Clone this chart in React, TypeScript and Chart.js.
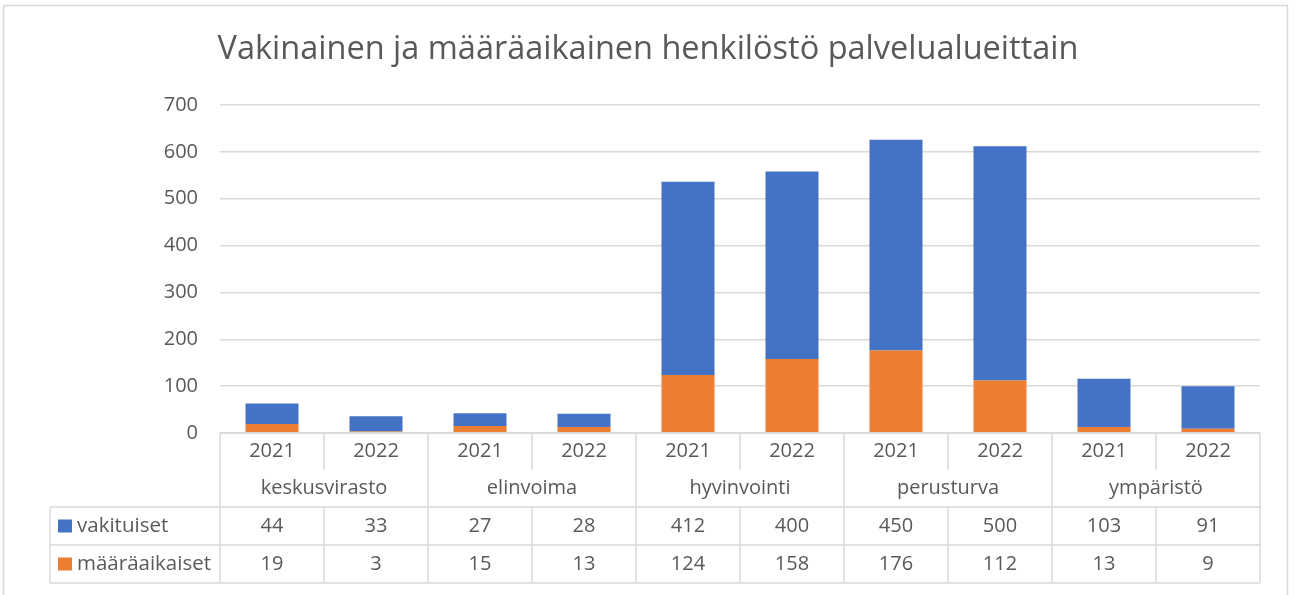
import React, { useEffect, useRef } from "react";
import { Chart, registerables } from "chart.js";
Chart.register(...registerables);

const title = "Vakinainen ja määräaikainen henkilöstö palvelualueittain";
const groups = ["keskusvirasto", "elinvoima", "hyvinvointi", "perusturva", "ympäristö"];
const categories = ["2021", "2022", "2021", "2022", "2021", "2022", "2021", "2022", "2021", "2022"];
const vakituiset = [44, 33, 27, 28, 412, 400, 450, 500, 103, 91];
const maaraaikaiset = [19, 3, 15, 13, 124, 158, 176, 112, 13, 9];
const seriesNames = ["vakituiset", "määräaikaiset"];
const yMin = 0;
const yMax = 700;
const yStep = 100;

const BLUE = "#4472C4";
const ORANGE = "#ED7D31";
const TEXT = "#595959";
const LINE = "#d9d9d9";
const FONT = "'Open Sans', sans-serif";

const decorPlugin = {
  id: "decor",
  beforeDraw(chart: any) {
    const ctx = chart.ctx;
    ctx.save();
    ctx.fillStyle = "#ffffff";
    ctx.fillRect(0, 0, chart.width, chart.height);
    ctx.strokeStyle = LINE;
    ctx.lineWidth = 1.5;
    ctx.strokeRect(3.5, 5.5, 1284, 600);
    ctx.fillStyle = TEXT;
    ctx.font = `32.5px ${FONT}`;
    ctx.textAlign = "center";
    ctx.textBaseline = "middle";
    ctx.fillText(title, 648, 50);
    ctx.restore();
  },
  afterDraw(chart: any) {
    const ctx = chart.ctx;
    const { left, right, bottom } = chart.chartArea;
    const n = categories.length;
    const cw = (right - left) / n;
    const rows = [bottom, bottom + 37, bottom + 74, bottom + 112, bottom + 150];
    const legendLeft = 50;
    ctx.save();
    ctx.strokeStyle = LINE;
    ctx.lineWidth = 1.5;
    const line = (x1: number, y1: number, x2: number, y2: number) => {
      ctx.beginPath();
      ctx.moveTo(x1, y1);
      ctx.lineTo(x2, y2);
      ctx.stroke();
    };
    line(left, rows[0], right, rows[0]);
    line(legendLeft, rows[2], right, rows[2]);
    line(legendLeft, rows[3], right, rows[3]);
    line(legendLeft, rows[4], right, rows[4]);
    line(legendLeft, rows[2], legendLeft, rows[4]);
    for (let k = 0; k <= n; k++) {
      const x = left + cw * k;
      if (k % 2 === 0) {
        line(x, rows[0], x, rows[4]);
      } else {
        line(x, rows[0], x, rows[1]);
        line(x, rows[2], x, rows[4]);
      }
    }
    ctx.fillStyle = TEXT;
    ctx.font = `20px ${FONT}`;
    ctx.textAlign = "center";
    ctx.textBaseline = "middle";
    for (let i = 0; i < n; i++) {
      const cx = left + cw * (i + 0.5);
      ctx.fillText(categories[i], cx, (rows[0] + rows[1]) / 2);
      ctx.fillText(String(vakituiset[i]), cx, (rows[2] + rows[3]) / 2);
      ctx.fillText(String(maaraaikaiset[i]), cx, (rows[3] + rows[4]) / 2);
    }
    groups.forEach((g, j) => {
      const cx = left + cw * (2 * j + 1);
      ctx.fillText(g, cx, (rows[1] + rows[2]) / 2);
    });
    const colors = [BLUE, ORANGE];
    seriesNames.forEach((s, r) => {
      const cy = (rows[2 + r] + rows[3 + r]) / 2;
      ctx.fillStyle = colors[r];
      ctx.fillRect(58, cy - 6.5, 14, 13);
      ctx.fillStyle = TEXT;
      ctx.textAlign = "left";
      ctx.font = `20.5px ${FONT}`;
      ctx.fillText(s, 77, cy);
    });
    ctx.restore();
  },
};

export default function App() {
  const ref = useRef<HTMLCanvasElement>(null);
  useEffect(() => {
    if (!ref.current) return;
    const chart = new Chart(ref.current, {
      type: "bar",
      data: {
        labels: categories,
        datasets: [
          { label: seriesNames[1], data: maaraaikaiset, backgroundColor: ORANGE, stack: "s" },
          { label: seriesNames[0], data: vakituiset, backgroundColor: BLUE, stack: "s" },
        ],
      },
      options: {
        responsive: false,
        animation: false,
        layout: { padding: { left: 0, right: 36, top: 105, bottom: 162 } },
        plugins: {
          legend: { display: false },
          title: { display: false },
          tooltip: { enabled: false },
        },
        datasets: { bar: { categoryPercentage: 1, barPercentage: 0.51 } },
        scales: {
          x: { display: false, stacked: true },
          y: {
            stacked: true,
            min: yMin,
            max: yMax,
            border: { display: false },
            grid: { color: LINE, lineWidth: 1.5, drawTicks: false },
            ticks: {
              stepSize: yStep,
              color: TEXT,
              font: { family: FONT, size: 20 },
              padding: 22,
            },
            afterFit: (scale: any) => {
              scale.width = 220;
            },
          },
        },
      },
      plugins: [decorPlugin],
    } as any);
    return () => chart.destroy();
  }, []);
  return (
    <div style={{ position: "fixed", left: 0, top: 0 }}>
      <canvas ref={ref} width={1296} height={595} />
    </div>
  );
}
